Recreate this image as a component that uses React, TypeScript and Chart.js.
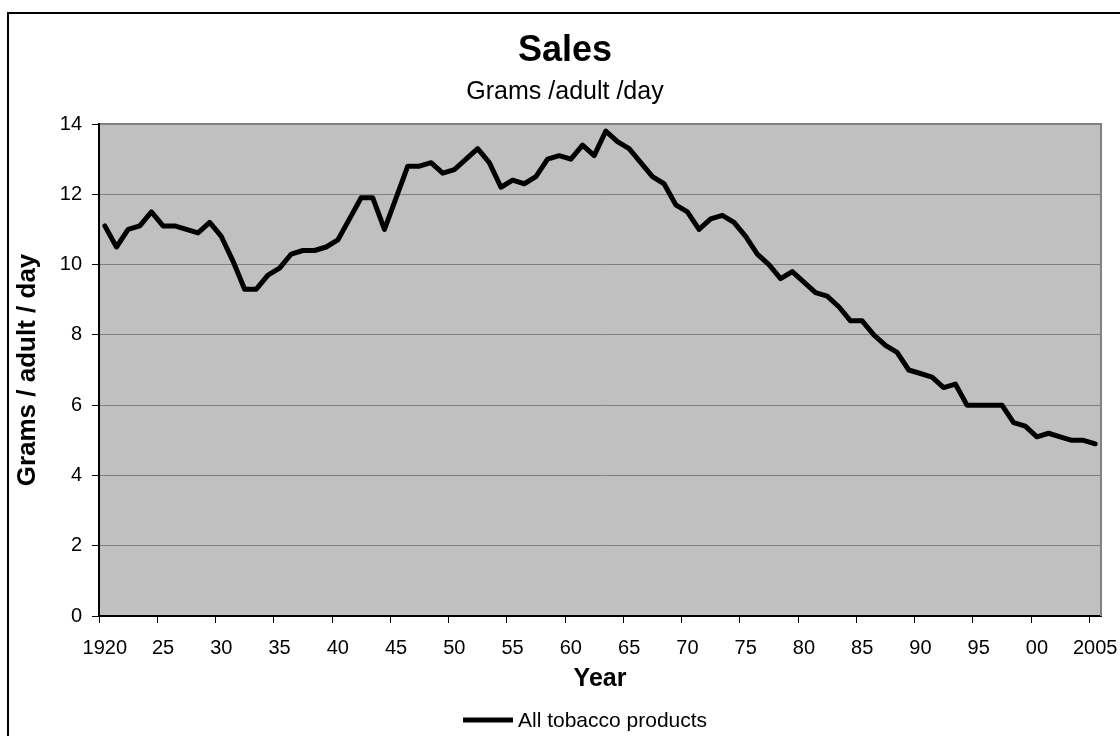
import React, { useEffect, useRef } from 'react';
import { Chart, registerables } from 'chart.js';

Chart.register(...registerables);

const FONT = "Arial, 'Liberation Sans', sans-serif";

// One category per year, 1920 through 2005
const years = [
  '1920', '1921', '1922', '1923', '1924', '1925', '1926', '1927', '1928', '1929',
  '1930', '1931', '1932', '1933', '1934', '1935', '1936', '1937', '1938', '1939',
  '1940', '1941', '1942', '1943', '1944', '1945', '1946', '1947', '1948', '1949',
  '1950', '1951', '1952', '1953', '1954', '1955', '1956', '1957', '1958', '1959',
  '1960', '1961', '1962', '1963', '1964', '1965', '1966', '1967', '1968', '1969',
  '1970', '1971', '1972', '1973', '1974', '1975', '1976', '1977', '1978', '1979',
  '1980', '1981', '1982', '1983', '1984', '1985', '1986', '1987', '1988', '1989',
  '1990', '1991', '1992', '1993', '1994', '1995', '1996', '1997', '1998', '1999',
  '2000', '2001', '2002', '2003', '2004', '2005',
];

// Grams per adult per day, all tobacco products
const tobaccoSales = [
  11.1, 10.5, 11.0, 11.1, 11.5, 11.1, 11.1, 11.0, 10.9, 11.2,
  10.8, 10.1, 9.3, 9.3, 9.7, 9.9, 10.3, 10.4, 10.4, 10.5,
  10.7, 11.3, 11.9, 11.9, 11.0, 11.9, 12.8, 12.8, 12.9, 12.6,
  12.7, 13.0, 13.3, 12.9, 12.2, 12.4, 12.3, 12.5, 13.0, 13.1,
  13.0, 13.4, 13.1, 13.8, 13.5, 13.3, 12.9, 12.5, 12.3, 11.7,
  11.5, 11.0, 11.3, 11.4, 11.2, 10.8, 10.3, 10.0, 9.6, 9.8,
  9.5, 9.2, 9.1, 8.8, 8.4, 8.4, 8.0, 7.7, 7.5, 7.0,
  6.9, 6.8, 6.5, 6.6, 6.0, 6.0, 6.0, 6.0, 5.5, 5.4,
  5.1, 5.2, 5.1, 5.0, 5.0, 4.9,
];

// Labelled years on the x axis and the text shown for each
const labelledYears = ['1920', '1925', '1930', '1935', '1940', '1945', '1950', '1955', '1960',
  '1965', '1970', '1975', '1980', '1985', '1990', '1995', '2000', '2005'];
const yearTickText = ['1920', '25', '30', '35', '40', '45', '50', '55', '60',
  '65', '70', '75', '80', '85', '90', '95', '00', '2005'];

const seriesName = 'All tobacco products';

// Grey plot area with a darker top/right edge
const plotBackground = {
  id: 'plotBackground',
  beforeDraw(chart: any) {
    const { ctx, chartArea: a } = chart;
    ctx.save();
    ctx.fillStyle = '#c0c0c0';
    ctx.fillRect(a.left, a.top, a.right - a.left, a.bottom - a.top);
    ctx.restore();
  },
  beforeDatasetsDraw(chart: any) {
    const { ctx, chartArea: a } = chart;
    ctx.save();
    ctx.strokeStyle = '#808080';
    ctx.lineWidth = 2;
    ctx.beginPath();
    ctx.moveTo(a.left + 1, a.top);
    ctx.lineTo(a.right, a.top);
    ctx.lineTo(a.right, a.bottom);
    ctx.stroke();
    ctx.restore();
  },
};

// Single-entry legend: a short thick line followed by the series name
const lineLegend = {
  id: 'lineLegend',
  afterDraw(chart: any, _args: any, opts: any) {
    const { ctx } = chart;
    const ds = chart.data.datasets[0];
    ctx.save();
    ctx.strokeStyle = ds.borderColor;
    ctx.lineWidth = ds.borderWidth;
    ctx.lineCap = 'butt';
    ctx.beginPath();
    ctx.moveTo(opts.x, opts.y);
    ctx.lineTo(opts.x + opts.lineLength, opts.y);
    ctx.stroke();
    ctx.fillStyle = '#000';
    ctx.font = `${opts.fontSize}px ${FONT}`;
    ctx.textBaseline = 'middle';
    ctx.textAlign = 'left';
    ctx.fillText(ds.label, opts.x + opts.lineLength + opts.gap, opts.y + 1);
    ctx.restore();
  },
};

export default function App() {
  const canvasRef = useRef<HTMLCanvasElement>(null);

  useEffect(() => {
    const chart = new Chart(canvasRef.current as HTMLCanvasElement, {
      type: 'line',
      data: {
        labels: years,
        datasets: [
          {
            label: seriesName,
            data: tobaccoSales,
            borderColor: '#000000',
            backgroundColor: '#000000',
            borderWidth: 5,
            borderJoinStyle: 'round',
            borderCapStyle: 'round',
            pointRadius: 0,
            tension: 0,
            fill: false,
          },
        ],
      },
      options: {
        responsive: false,
        animation: false,
        devicePixelRatio: 1,
        layout: { padding: { left: 29, right: 19, top: 0, bottom: 0 } },
        plugins: {
          legend: { display: false },
          tooltip: { enabled: false },
          title: {
            display: true,
            text: 'Sales',
            color: '#000',
            font: { family: FONT, size: 36, weight: 'bold' },
            padding: { top: 29.4, bottom: 0 },
          },
          subtitle: {
            display: true,
            text: 'Grams /adult /day',
            color: '#000',
            font: { family: FONT, size: 25, weight: 'normal' },
            padding: { top: 4.9, bottom: 16.5 },
          },
          lineLegend: { x: 463, y: 720, lineLength: 50, gap: 5, fontSize: 21 },
        } as any,
        scales: {
          x: {
            type: 'category',
            offset: true,
            grid: {
              offset: true,
              drawOnChartArea: false,
              drawTicks: true,
              tickLength: 7,
              tickWidth: 1,
              tickColor: (ctx: any) =>
                typeof ctx.index === 'number' && labelledYears.includes(years[ctx.index])
                  ? '#000'
                  : 'rgba(0,0,0,0)',
            },
            border: { display: true, color: '#000', width: 2 },
            ticks: {
              autoSkip: false,
              maxRotation: 0,
              minRotation: 0,
              padding: 13,
              color: '#000',
              font: { family: FONT, size: 20 },
              callback: (_value: any, index: number) => {
                const k = labelledYears.indexOf(years[index]);
                return k >= 0 ? yearTickText[k] : '';
              },
            },
            title: {
              display: true,
              text: 'Year',
              color: '#000',
              font: { family: FONT, size: 25, weight: 'bold' },
              padding: { top: 0, bottom: 42 },
            },
            afterFit: (scale: any) => {
              scale.height = 120;
              scale.paddingLeft = 0;
              scale.paddingRight = 0;
            },
          },
          y: {
            min: 0,
            max: 14,
            ticks: {
              stepSize: 2,
              padding: 10,
              color: '#000',
              font: { family: FONT, size: 20 },
            },
            grid: {
              color: '#808080',
              lineWidth: 1,
              tickLength: 7,
              tickColor: '#000',
              tickWidth: 1,
            },
            border: { display: true, color: '#000', width: 2 },
            title: {
              display: true,
              text: 'Grams / adult / day',
              color: '#000',
              font: { family: FONT, size: 26, weight: 'bold' },
              padding: { top: -16.6, bottom: 0 },
            },
            afterFit: (scale: any) => {
              scale.width = 70;
              scale.paddingTop = 0;
              scale.paddingBottom = 0;
            },
          },
        },
      } as any,
      plugins: [plotBackground, lineLegend],
    });
    return () => chart.destroy();
  }, []);

  return (
    <div
      style={{
        position: 'fixed',
        left: 0,
        top: 0,
        width: 1120,
        height: 736,
        overflow: 'hidden',
        background: '#ffffff',
      }}
    >
      <div
        style={{
          position: 'absolute',
          left: 7,
          top: 12,
          width: 1200,
          height: 800,
          border: '2px solid #000000',
        }}
      />
      <canvas
        ref={canvasRef}
        width={1120}
        height={736}
        style={{ position: 'absolute', left: 0, top: 0, width: 1120, height: 736 }}
      />
    </div>
  );
}
